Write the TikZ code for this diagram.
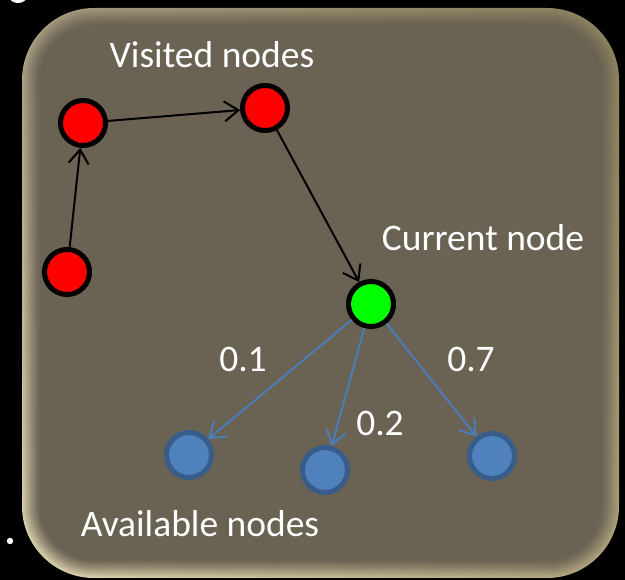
\documentclass[tikz,border=0pt]{standalone}
\usepackage{fontspec}
\setmainfont{Carlito}
\usetikzlibrary{arrows.meta,shadings}
\definecolor{panel}{RGB}{106,98,83}
\definecolor{bevLL}{RGB}{222,212,176}
\definecolor{bevUL}{RGB}{165,155,128}
\definecolor{bevUR}{RGB}{140,128,92}
\definecolor{bevLR}{RGB}{175,163,125}
\definecolor{redfill}{RGB}{255,0,0}
\definecolor{greenfill}{RGB}{0,255,0}
\definecolor{bluefill}{RGB}{79,129,189}
\definecolor{blueline}{RGB}{56,93,138}
\definecolor{bluearrow}{RGB}{74,126,187}
\tikzset{
  visited/.style={circle,draw=black,fill=redfill,line width=5pt,minimum size=45pt,inner sep=0pt},
  current/.style={circle,draw=black,fill=greenfill,line width=5pt,minimum size=45pt,inner sep=0pt},
  avail/.style={circle,draw=blueline,fill=bluefill,line width=5pt,minimum size=45pt,inner sep=0pt},
  blackarrow/.style={draw=black,line width=2pt,-{Straight Barb[length=14pt,width=20pt]}},
  bluearr/.style={draw=bluearrow,line width=2pt,-{Straight Barb[length=14pt,width=20pt]}},
  lbl/.style={text=white,font=\fontsize{37.5}{42}\selectfont,anchor=base,inner sep=0pt}
}
\begin{document}
\begin{tikzpicture}[x=1pt,y=-1pt]
\useasboundingbox (0,0) rectangle (625,580);
\fill[black] (0,0) rectangle (625,580);
\begin{scope}
\clip (0,0) rectangle (625,580);
\fill[white] (18,-4) ellipse (9 and 7);
\end{scope}
\fill[white] (10,541) circle (3.2);
% panel with bevel
\foreach \i in {0,1,...,18}{
  \pgfmathtruncatemacro\p{100*(1-\i/18)^1.2}
  \pgfmathsetmacro\r{72-\i}
  \shade[lower left=bevLL!\p!panel, upper left=bevUL!\p!panel,
         upper right=bevUR!\p!panel, lower right=bevLR!\p!panel,
         rounded corners=\r pt] (22+\i,8+\i) rectangle (619-\i,578-\i);
}
% nodes
\node[visited] (r1) at (83,123) {};
\node[visited] (r2) at (265,108) {};
\node[visited] (r3) at (67,272) {};
\node[current] (g) at (371,304) {};
\node[avail] (b1) at (189,455) {};
\node[avail] (b2) at (325,470) {};
\node[avail] (b3) at (492,456) {};
% connectors
\draw[blackarrow] (r3) -- (r1);
\draw[blackarrow] (r1) -- (r2);
\draw[blackarrow] (r2) -- (g);
\draw[bluearr] (g) -- (b1);
\draw[bluearr] (g) -- (b2);
\draw[bluearr] (g) -- (b3);
% labels
\node[lbl] (tv) at (212,68) {Visited nodes};
\node[lbl] (tc) at (483,251) {Current node};
\node[lbl] (t1) at (243,372) {0.1};
\node[lbl] (t7) at (471,372) {0.7};
\node[lbl] (t2) at (380,436) {0.2};
\node[lbl] (ta) at (200,537) {Available nodes};
\end{tikzpicture}
\end{document}
